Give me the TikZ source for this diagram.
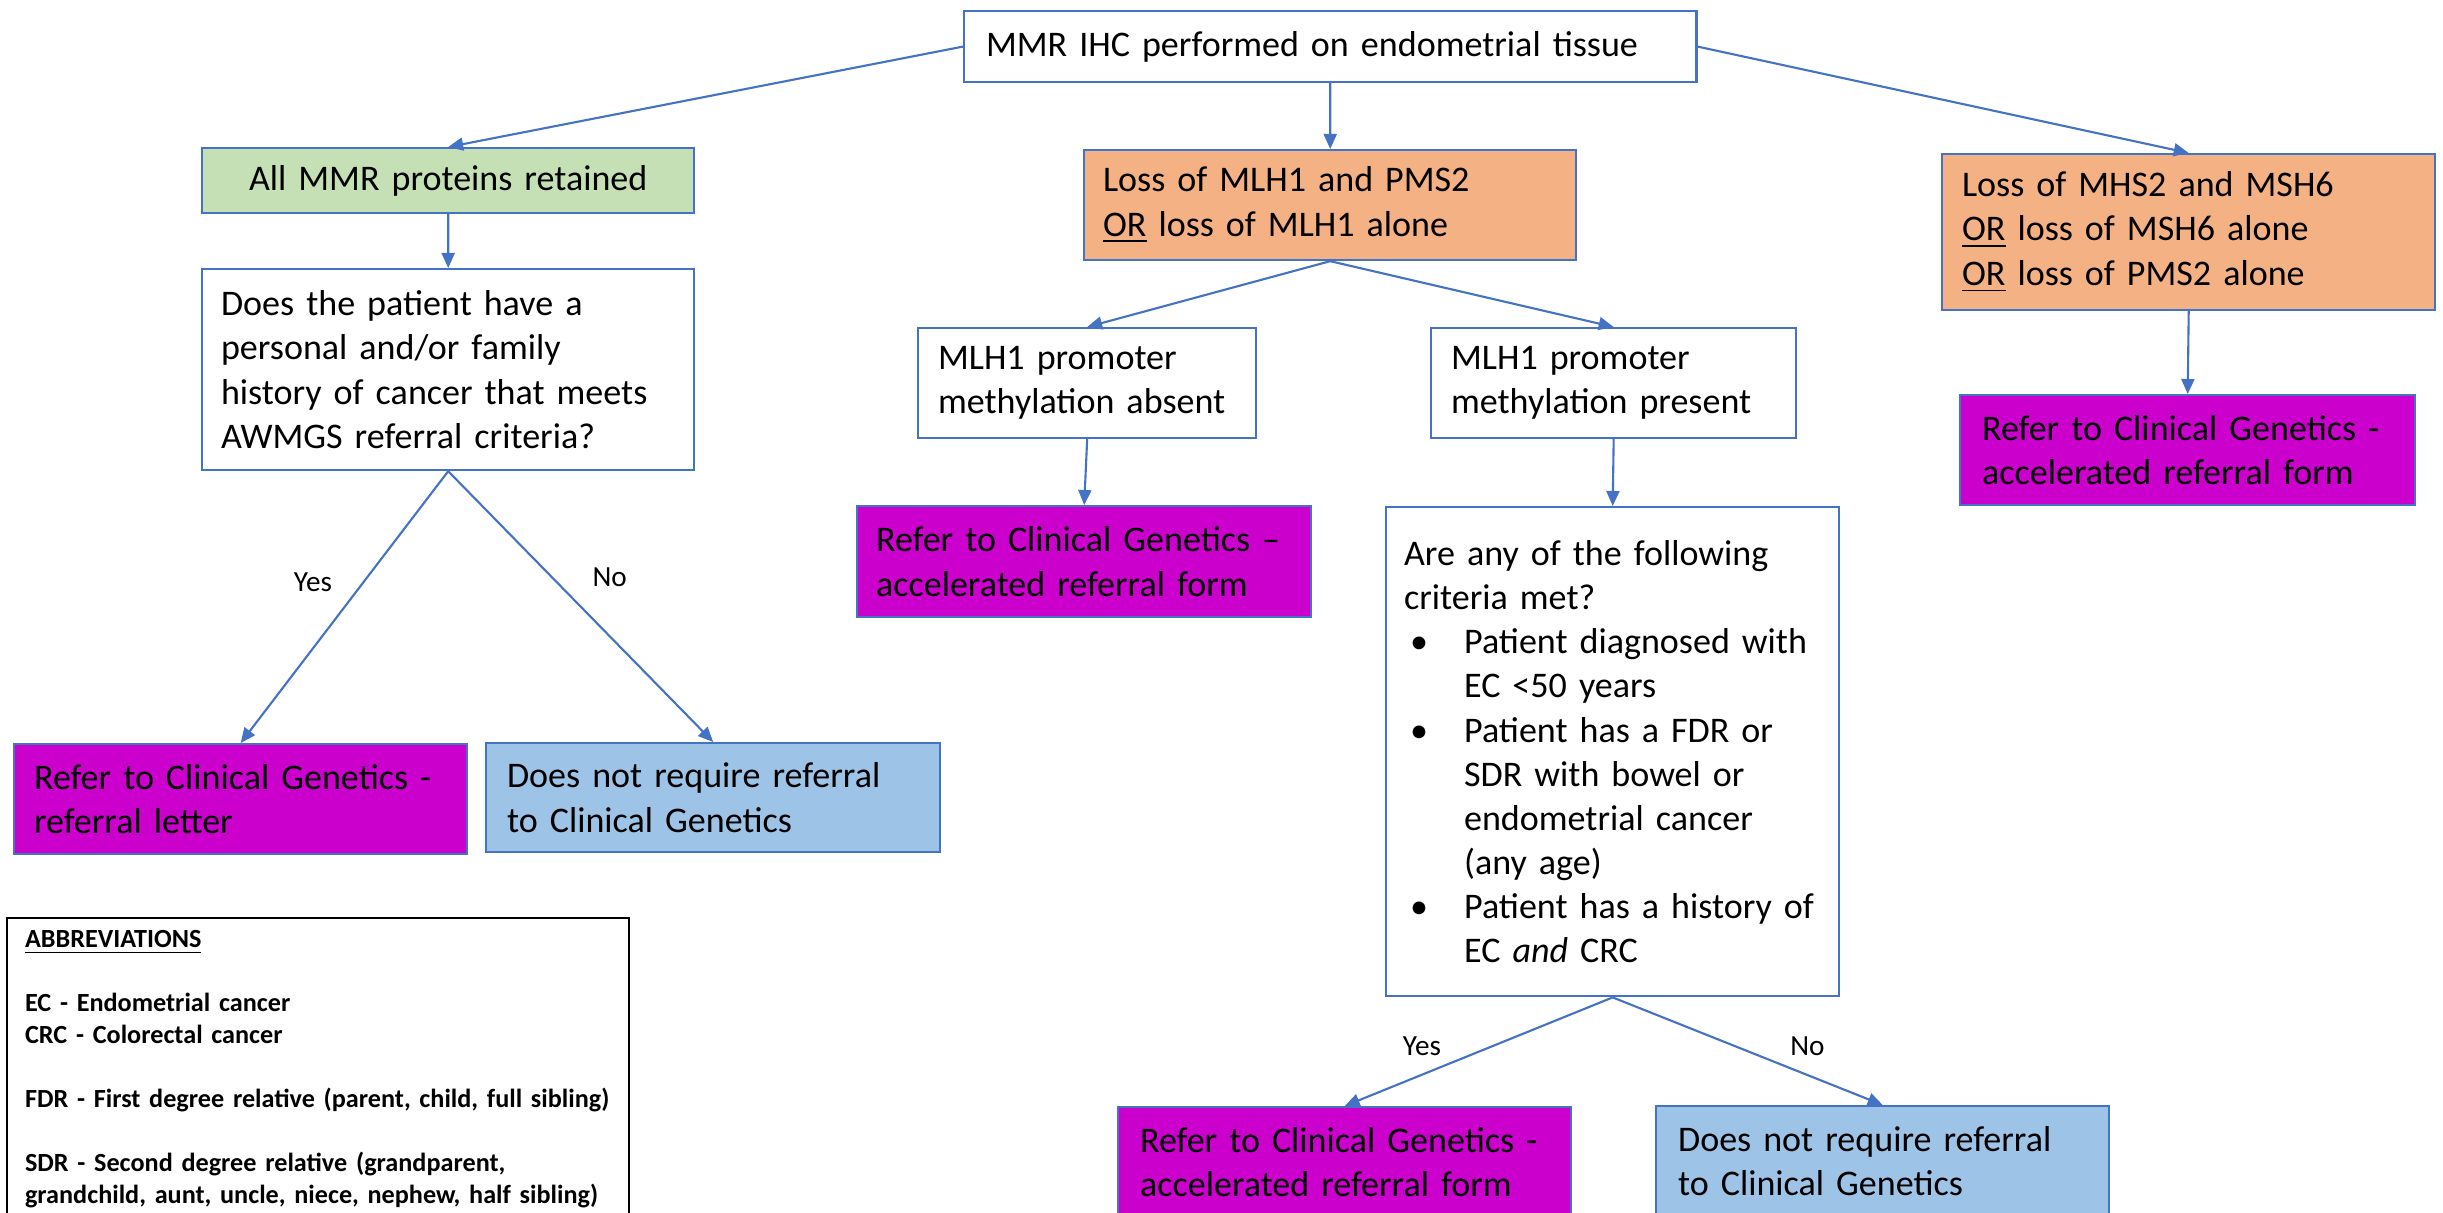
\documentclass[tikz,border=0pt]{standalone}
\usepackage{fontspec}
\setmainfont{Carlito}
\usepackage{xcolor}
\usepackage{tikz}
\usetikzlibrary{positioning,arrows.meta}

\definecolor{mmrblue}{HTML}{4472C4}
\definecolor{keptgreen}{HTML}{C5E0B4}
\definecolor{lossorange}{HTML}{F4B183}
\definecolor{refermagenta}{HTML}{CC00CC}
\definecolor{norefblue}{HTML}{9DC3E6}

\begin{document}
\begin{tikzpicture}[
    x=0.01cm, y=-0.01cm,
    font=\fontsize{10.25pt}{12.55pt}\selectfont,
    box/.style={rectangle, anchor=north west, align=left, inner ysep=0pt, draw=mmrblue, line width=0.6pt},
    box_plain/.style={box, fill=white},
    box_kept/.style={box, fill=keptgreen},
    box_loss/.style={box, fill=lossorange},
    box_refer/.style={box, fill=refermagenta},
    box_noref/.style={box, fill=norefblue},
    flow/.style={draw=mmrblue, line width=0.6pt, -{Triangle[length=0.15cm, width=0.13cm]}},
    answer/.style={font=\fontsize{8.3pt}{10pt}\selectfont, inner sep=0pt},
    abbrevbox/.style={rectangle, anchor=north west, align=left, draw=black, line width=0.6pt, font=\fontsize{7.45pt}{9.1pt}\selectfont\bfseries},
]
\useasboundingbox (0,0) rectangle (2443,1212);
\clip (0,0) rectangle (2443,1212);

% Top
\node[box_plain, text width=6.88cm, inner xsep=0.22cm, minimum height=0.71cm] (ihc) at (963,10) {MMR IHC performed on endometrial tissue};

% Row 1 (three outcomes of IHC)
\node[box_kept, align=center, text width=4.72cm, inner xsep=0.1cm, minimum height=0.65cm] (retained) at (201,147) {All MMR proteins retained};
\node[box_loss, text width=4.54cm, inner xsep=0.19cm, minimum height=1.10cm] (lossmlh) at (1083,149) {Loss of MLH1 and PMS2\\\underline{OR} loss of MLH1 alone};
\node[box_loss, text width=4.53cm, inner xsep=0.2cm, minimum height=1.56cm] (lossmsh) at (1941,153) {Loss of MHS2 and MSH6\\\underline{OR} loss of MSH6 alone\\\underline{OR} loss of PMS2 alone};

% Row 2
\node[box_plain, text width=4.54cm, inner xsep=0.19cm, minimum height=2.01cm] (question) at (201,268) {Does the patient have a\\personal and/or family\\history of cancer that meets\\AWMGS referral criteria?};
\node[box_plain, text width=2.98cm, inner xsep=0.2cm, minimum height=1.10cm] (absent) at (917,327) {MLH1 promoter\\methylation absent};
\node[box_plain, text width=3.25cm, inner xsep=0.2cm, minimum height=1.10cm] (present) at (1430,327) {MLH1 promoter\\methylation present};
\node[box_refer, text width=4.11cm, inner xsep=0.22cm, minimum height=1.10cm] (referright) at (1959,394) {Refer to Clinical Genetics -\\accelerated referral form};

% Row 3
\node[box_refer, text width=4.16cm, inner xsep=0.19cm, minimum height=1.11cm] (refermid) at (856,505) {Refer to Clinical Genetics --\\accelerated referral form};
\node[box_plain, text width=4.17cm, inner xsep=0.18cm, minimum height=4.89cm] (criteria) at (1385,506) {Are any of the following\\criteria met?\\
\makebox[0.6cm][l]{\hspace{0.06cm}\textbullet}Patient diagnosed with\\
\hspace*{0.6cm}EC <50 years\\
\makebox[0.6cm][l]{\hspace{0.06cm}\textbullet}Patient has a FDR or\\
\hspace*{0.6cm}SDR with bowel or\\
\hspace*{0.6cm}endometrial cancer\\
\hspace*{0.6cm}(any age)\\
\makebox[0.6cm][l]{\hspace{0.06cm}\textbullet}Patient has a history of\\
\hspace*{0.6cm}EC \textit{and} CRC};
\node[box_refer, text width=4.13cm, inner xsep=0.2cm, minimum height=1.10cm] (letter) at (13,743) {Refer to Clinical Genetics -\\referral letter};
\node[box_noref, text width=4.12cm, inner xsep=0.21cm, minimum height=1.09cm] (norefleft) at (485,742) {Does not require referral\\to Clinical Genetics};

% Row 4
\node[box_refer, text width=4.09cm, inner xsep=0.22cm, minimum height=1.10cm] (referbottom) at (1117,1106) {Refer to Clinical Genetics -\\accelerated referral form};
\node[box_noref, text width=4.09cm, inner xsep=0.22cm, minimum height=1.10cm] (norefright) at (1655,1105) {Does not require referral\\to Clinical Genetics};

% Key
\node[abbrevbox, text width=5.86cm, inner xsep=0.18cm, inner ysep=0.12cm] (abbrev) at (6,917) {\underline{ABBREVIATIONS}\\[9.1pt]
EC - Endometrial cancer\\
CRC - Colorectal cancer\\[9.1pt]
FDR - First degree relative (parent, child, full sibling)\\[9.1pt]
SDR - Second degree relative (grandparent,\\
grandchild, aunt, uncle, niece, nephew, half sibling)};

% Connectors
\draw[flow] (ihc.west) -- (retained.north);
\draw[flow] (ihc.south) -- (lossmlh.north);
\draw[flow] (ihc.east) -- (lossmsh.north);
\draw[flow] (retained.south) -- (question.north);
\draw[flow] (lossmlh.south) -- (absent.north);
\draw[flow] (lossmlh.south) -- (present.north);
\draw[flow] (absent.south) -- (refermid.north);
\draw[flow] (present.south) -- (criteria.north);
\draw[flow] (lossmsh.south) -- (referright.north);
\draw[flow] (question.south) -- node[answer, pos=0.41, left=0.3cm] {Yes} (letter.north);
\draw[flow] (question.south) -- node[answer, pos=0.39, right=0.4cm] {No} (norefleft.north);
\draw[flow] (criteria.south) -- node[answer, pos=0.45, left=0.5cm] {Yes} (referbottom.north);
\draw[flow] (criteria.south) -- node[answer, pos=0.45, right=0.55cm] {No} (norefright.north);
\end{tikzpicture}
\end{document}
